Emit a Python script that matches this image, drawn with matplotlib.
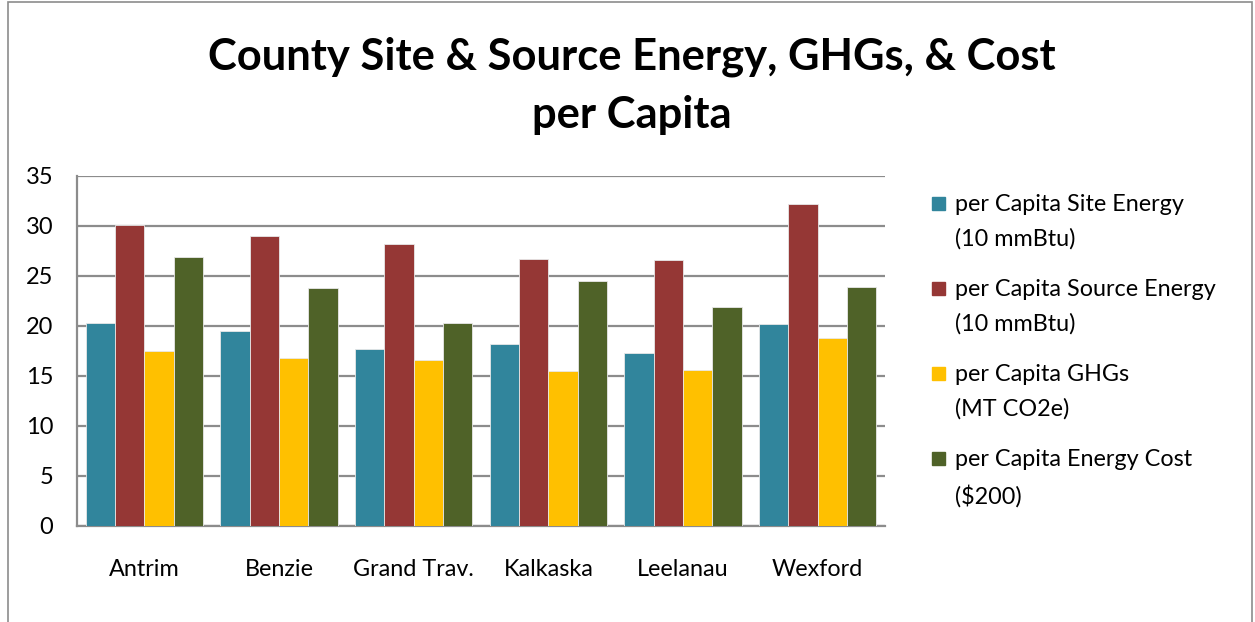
import numpy as np
import matplotlib
matplotlib.use("Agg")
import matplotlib.pyplot as plt
from matplotlib.patches import Rectangle

plt.rcParams['font.family'] = ['Lato', 'DejaVu Sans']

counties = ['Antrim', 'Benzie', 'Grand Trav.', 'Kalkaska', 'Leelanau', 'Wexford']
site_energy = [20.3, 19.5, 17.7, 18.2, 17.3, 20.2]
source_energy = [30.1, 29.0, 28.2, 26.7, 26.6, 32.2]
ghgs = [17.5, 16.8, 16.6, 15.5, 15.6, 18.8]
energy_cost = [26.9, 23.8, 20.3, 24.5, 21.9, 23.9]

series_labels = ['per Capita Site Energy\n(10 mmBtu)',
                 'per Capita Source Energy\n(10 mmBtu)',
                 'per Capita GHGs\n(MT CO2e)',
                 'per Capita Energy Cost\n($200)']
colors = ['#31859C', '#953735', '#FFC000', '#4F6228']
yticks = [0, 5, 10, 15, 20, 25, 30, 35]

W, H = 1255, 622
fig = plt.figure(figsize=(W / 100, H / 100), dpi=100)
ax = fig.add_axes([77 / W, 1 - 525.7 / H, 808 / W, 350 / H])

x = np.arange(len(counties))
bw = 0.218
for i, vals in enumerate([site_energy, source_energy, ghgs, energy_cost]):
    ax.bar(x + (i - 1.5) * bw, vals, bw, color=colors[i],
           edgecolor='#e8e8e8', linewidth=0.6, zorder=3)

ax.set_xlim(-0.5, len(counties) - 0.5)
ax.set_ylim(0, 35)
ax.set_yticks(yticks)
ax.set_xticks(x)
ax.set_xticklabels(counties, fontsize=16.8)
ax.tick_params(axis='y', length=0, pad=17, labelsize=17)
ax.tick_params(axis='x', length=0, pad=24)
ax.grid(axis='y', color='#8c8c8c', linewidth=1.6, zorder=0)
for s in ['top', 'right']:
    ax.spines[s].set_visible(False)
for s in ['left', 'bottom']:
    ax.spines[s].set_color('#8c8c8c')
    ax.spines[s].set_linewidth(1.6)

fig.text(632 / W, 1 - 57 / H, 'County Site & Source Energy, GHGs, & Cost',
         ha='center', va='center', fontsize=31.3, fontweight='bold')
fig.text(632 / W, 1 - 115 / H, 'per Capita',
         ha='center', va='center', fontsize=31.3, fontweight='bold')

# legend
for i, lab in enumerate(series_labels):
    y0 = 203 + i * 85
    fig.patches.append(Rectangle((932 / W, 1 - (y0 + 7) / H), 13 / W, 13 / H,
                                 transform=fig.transFigure, color=colors[i]))
    fig.text(955 / W, 1 - (y0 - 9) / H, lab, ha='left', va='top',
             fontsize=16.8, linespacing=1.75)

# outer frame
fig.patches.append(Rectangle((8 / W, -0.01), 1244 / W, 1 - 2 / H + 0.01,
                             transform=fig.transFigure, fill=False,
                             edgecolor='#8c8c8c', linewidth=1.2))

fig.savefig('out.png', dpi=100)
